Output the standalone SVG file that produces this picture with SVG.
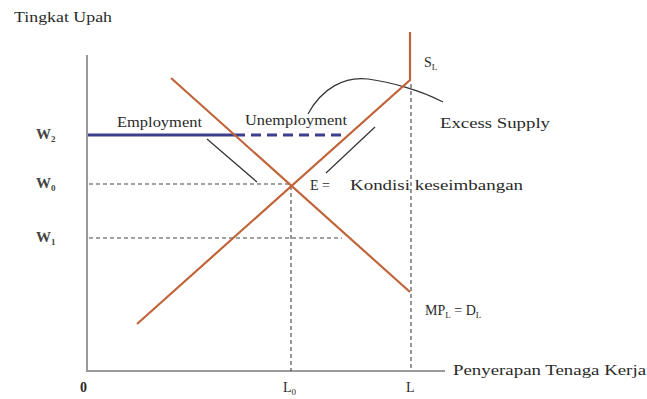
<svg xmlns="http://www.w3.org/2000/svg" width="647" height="399" viewBox="0 0 647 399">
<style>
text{font-family:"Liberation Serif","Times New Roman",serif;fill:#2a2a2a;font-size:14px}
.axis{stroke:#9a9a9a;stroke-width:2;fill:none}
.curve{stroke:#c0643a;stroke-width:2.2;fill:none}
.blue{stroke:#3c3f8e;stroke-width:3;fill:none}
.dash{stroke:#444;stroke-width:1.1;stroke-dasharray:4 3;fill:none}
.ptr{stroke:#333;stroke-width:1.2;fill:none}
.sub{font-size:9px}
.w{font-size:15px;font-weight:bold;fill:#444}
</style>
<rect width="647" height="399" fill="#fff"/>
<g id="axes">
<path class="axis" d="M87,55 V371 H445"/>
<text x="14" y="22" textLength="98" lengthAdjust="spacingAndGlyphs" font-size="15">Tingkat Upah</text>
<text x="453" y="375" textLength="193" lengthAdjust="spacingAndGlyphs" font-size="15">Penyerapan Tenaga Kerja</text>
<text x="80" y="392" font-weight="bold">0</text>
<text x="283" y="392" font-size="15">L<tspan class="sub" dy="3">0</tspan></text>
<text x="406" y="392" font-size="15">L</text>
<text class="w" x="36" y="139">W<tspan class="sub" dy="3">2</tspan></text>
<text class="w" x="36" y="188">W<tspan class="sub" dy="3">0</tspan></text>
<text class="w" x="36" y="242">W<tspan class="sub" dy="3">1</tspan></text>
</g>
<g id="connectors">
<path class="dash" d="M89,184 H290"/>
<path class="dash" d="M89,238 H342"/>
<path class="dash" d="M291,186 V371"/>
<path class="dash" stroke-dasharray="3 3" d="M411,84 V371"/>
<path class="ptr" d="M207,139 L257,182"/>
<path class="ptr" d="M375,127 L326,173"/>
<path class="ptr" d="M308,114 C322,88 345,76 368,79 C390,82 420,90 443,102"/>
</g>
<g id="employment">
<path class="blue" d="M88,135 H235"/>
<text x="117" y="127" textLength="85" lengthAdjust="spacingAndGlyphs" font-size="13">Employment</text>
</g>
<g id="unemployment">
<path class="blue" stroke-dasharray="10 6" d="M235,135 H345"/>
<text x="245" y="125" textLength="102" lengthAdjust="spacingAndGlyphs" font-size="13">Unemployment</text>
</g>
<g id="supply">
<path class="curve" d="M137,324 L410,80 V32"/>
<text x="424" y="67">S<tspan class="sub" dy="3">L</tspan></text>
</g>
<g id="demand">
<path class="curve" d="M171,78 L410,292"/>
<text x="425" y="315">MP<tspan class="sub" dy="3">L</tspan><tspan dy="-3"> = D</tspan><tspan class="sub" dy="3">L</tspan></text>
</g>
<g id="equilibrium">
<text x="310" y="190">E =</text>
<text x="350" y="190" textLength="173" lengthAdjust="spacingAndGlyphs">Kondisi keseimbangan</text>
</g>
<g id="excess">
<text x="440" y="128" textLength="110" lengthAdjust="spacingAndGlyphs">Excess Supply</text>
</g>
</svg>
